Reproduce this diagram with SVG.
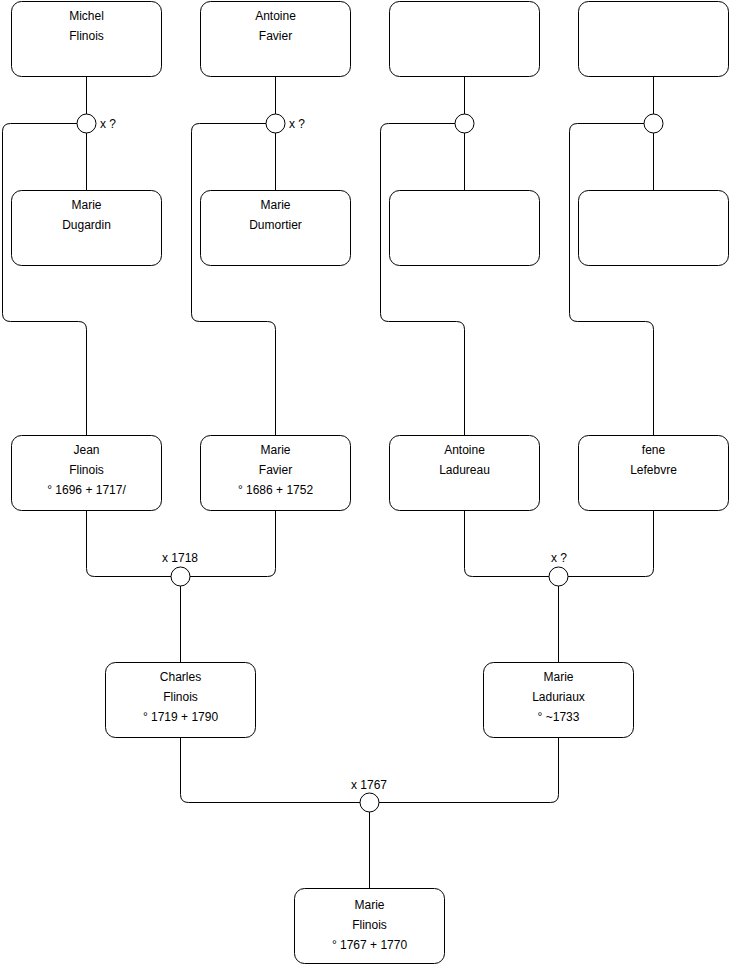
<svg xmlns="http://www.w3.org/2000/svg" width="740" height="975" viewBox="0 0 740 975">
<style>
.box{fill:#fff;stroke:#000;stroke-width:1}
.c{fill:#fff;stroke:#000;stroke-width:1}
.ln{fill:none;stroke:#000;stroke-width:1}
text{font-family:"Liberation Sans",Arial,sans-serif;font-size:12px;fill:#000;dominant-baseline:central}
.m{text-anchor:middle}
</style>
<rect width="740" height="975" fill="#fff"/>
<g id="connectors">
<path class="ln" d="M86.5 76 V190"/>
<path class="ln" d="M275.5 76 V190"/>
<path class="ln" d="M464.5 76 V190"/>
<path class="ln" d="M653.5 76 V190"/>
<path class="ln" d="M77 123.5 H10.5 Q2.5 123.5 2.5 131.5 V313.5 Q2.5 321.5 10.5 321.5 H78.5 Q86.5 321.5 86.5 329.5 V435"/>
<path class="ln" d="M266 123.5 H199.5 Q191.5 123.5 191.5 131.5 V313.5 Q191.5 321.5 199.5 321.5 H267.5 Q275.5 321.5 275.5 329.5 V435"/>
<path class="ln" d="M455 123.5 H388.5 Q380.5 123.5 380.5 131.5 V313.5 Q380.5 321.5 388.5 321.5 H456.5 Q464.5 321.5 464.5 329.5 V435"/>
<path class="ln" d="M644 123.5 H577.5 Q569.5 123.5 569.5 131.5 V313.5 Q569.5 321.5 577.5 321.5 H645.5 Q653.5 321.5 653.5 329.5 V435"/>
<path class="ln" d="M86.5 510 V568.5 Q86.5 576.5 94.5 576.5 H267.5 Q275.5 576.5 275.5 568.5 V510"/>
<path class="ln" d="M180.5 576.5 V662"/>
<path class="ln" d="M464.5 510 V568.5 Q464.5 576.5 472.5 576.5 H645.5 Q653.5 576.5 653.5 568.5 V510"/>
<path class="ln" d="M558.5 576.5 V662"/>
<path class="ln" d="M180.5 737 V794.5 Q180.5 802.5 188.5 802.5 H550.5 Q558.5 802.5 558.5 794.5 V737"/>
<path class="ln" d="M369.5 802.5 V888"/>
</g>
<g id="u1"><circle class="c" cx="86.5" cy="123.5" r="9.5"/><text x="100" y="124">x ?</text></g>
<g id="u2"><circle class="c" cx="275.5" cy="123.5" r="9.5"/><text x="289" y="124">x ?</text></g>
<g id="u3"><circle class="c" cx="464.5" cy="123.5" r="9.5"/></g>
<g id="u4"><circle class="c" cx="653.5" cy="123.5" r="9.5"/></g>
<g id="u5"><circle class="c" cx="180.5" cy="576.5" r="9.5"/><text class="m" x="180" y="558">x 1718</text></g>
<g id="u6"><circle class="c" cx="558.5" cy="576.5" r="9.5"/><text class="m" x="559" y="558">x ?</text></g>
<g id="u7"><circle class="c" cx="369.5" cy="802.5" r="9.5"/><text class="m" x="369" y="785">x 1767</text></g>
<g id="michel"><rect class="box" x="11.5" y="1.5" width="150" height="75" rx="10"/><text class="m" x="86.5" y="15.5">Michel</text><text class="m" x="86.5" y="35.5">Flinois</text></g>
<g id="antoine-favier"><rect class="box" x="200.5" y="1.5" width="150" height="75" rx="10"/><text class="m" x="275.5" y="15.5">Antoine</text><text class="m" x="275.5" y="35.5">Favier</text></g>
<g id="top3"><rect class="box" x="389.5" y="1.5" width="150" height="75" rx="10"/></g>
<g id="top4"><rect class="box" x="578.5" y="1.5" width="150" height="75" rx="10"/></g>
<g id="dugardin"><rect class="box" x="11.5" y="190.5" width="150" height="75" rx="10"/><text class="m" x="86.5" y="205">Marie</text><text class="m" x="86.5" y="225">Dugardin</text></g>
<g id="dumortier"><rect class="box" x="200.5" y="190.5" width="150" height="75" rx="10"/><text class="m" x="275.5" y="205">Marie</text><text class="m" x="275.5" y="225">Dumortier</text></g>
<g id="mid3"><rect class="box" x="389.5" y="190.5" width="150" height="75" rx="10"/></g>
<g id="mid4"><rect class="box" x="578.5" y="190.5" width="150" height="75" rx="10"/></g>
<g id="jean"><rect class="box" x="11.5" y="435.5" width="150" height="75" rx="10"/><text class="m" x="86.5" y="450">Jean</text><text class="m" x="86.5" y="470">Flinois</text><text class="m" x="86.5" y="490">° 1696 + 1717/</text></g>
<g id="marie-favier"><rect class="box" x="200.5" y="435.5" width="150" height="75" rx="10"/><text class="m" x="275.5" y="450">Marie</text><text class="m" x="275.5" y="470">Favier</text><text class="m" x="275.5" y="490">° 1686 + 1752</text></g>
<g id="antoine-ladureau"><rect class="box" x="389.5" y="435.5" width="150" height="75" rx="10"/><text class="m" x="464.5" y="450">Antoine</text><text class="m" x="464.5" y="470">Ladureau</text></g>
<g id="fene"><rect class="box" x="578.5" y="435.5" width="150" height="75" rx="10"/><text class="m" x="653.5" y="450">fene</text><text class="m" x="653.5" y="470">Lefebvre</text></g>
<g id="charles"><rect class="box" x="105.5" y="662.5" width="150" height="75" rx="10"/><text class="m" x="180.5" y="677">Charles</text><text class="m" x="180.5" y="697">Flinois</text><text class="m" x="180.5" y="717">° 1719 + 1790</text></g>
<g id="laduriaux"><rect class="box" x="483.5" y="662.5" width="150" height="75" rx="10"/><text class="m" x="558.5" y="677">Marie</text><text class="m" x="558.5" y="697">Laduriaux</text><text class="m" x="558.5" y="717">° ~1733</text></g>
<g id="marie-flinois"><rect class="box" x="294.5" y="888.5" width="150" height="75" rx="10"/><text class="m" x="369.5" y="905">Marie</text><text class="m" x="369.5" y="925">Flinois</text><text class="m" x="369.5" y="945">° 1767 + 1770</text></g>
</svg>
